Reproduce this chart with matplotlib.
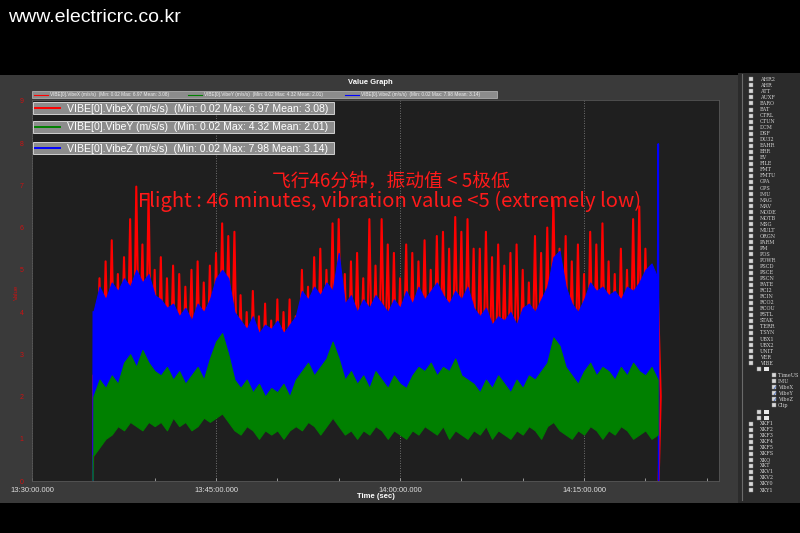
import matplotlib.pyplot as plt
from matplotlib.patches import Rectangle
from matplotlib.lines import Line2D
import numpy as np

# sample times, minutes after 13:30 (one envelope value every 30 s)
minutes = np.arange(5.0, 51.5, 0.5)

# VibeX (red) peaks / troughs
vibe_x_hi = [2.5, 4.8, 5.2, 5.7, 4.9, 5.3, 6.2, 6.97, 5.6, 6.8,
             5.0, 5.3, 4.8, 5.1, 4.9, 4.6, 5.0, 5.2, 4.7, 5.1,
             5.4, 6.1, 5.8, 5.9, 4.4, 4.0, 4.5, 3.9, 4.2, 3.8,
             4.3, 4.0, 4.3, 3.9, 5.0, 4.6, 5.3, 5.5, 5.0, 6.1,
             6.2, 4.9, 5.2, 5.4, 4.8, 6.2, 5.1, 6.2, 5.6, 5.4,
             4.8, 5.6, 5.4, 5.2, 5.7, 5.0, 5.8, 5.9, 5.5, 6.25,
             5.9, 6.2, 5.5, 5.5, 5.9, 5.3, 5.6, 5.1, 5.4, 5.6,
             5.0, 4.7, 5.8, 5.4, 6.0, 6.65, 5.5, 5.8, 5.2, 5.6,
             4.9, 5.9, 5.6, 6.1, 5.2, 4.9, 5.5, 5.0, 6.2, 6.5,
             5.5, 5.0, 4.6]
vibe_x_lo = [2.1, 1.9, 2.3, 2.0, 2.4, 2.2, 1.8, 2.5, 2.1, 2.3,
             2.0, 1.9, 2.2, 1.7, 2.1, 2.4, 1.8, 2.0, 2.3, 1.9,
             2.2, 2.5, 2.1, 1.8, 1.9, 1.6, 2.0, 1.7, 1.9, 1.8,
             1.6, 2.0, 1.7, 2.1, 2.3, 1.9, 2.2, 2.0, 2.4, 2.1,
             2.3, 1.9, 2.0, 2.2, 1.8, 2.1, 1.9, 2.3, 2.0, 1.8,
             2.2, 1.9, 2.1, 2.3, 2.0, 2.2, 2.4, 2.1, 1.9, 2.2,
             2.0, 2.3, 1.8, 1.9, 2.1, 1.7, 2.0, 1.8, 1.9, 2.2,
             1.8, 2.0, 2.1, 1.9, 2.3, 2.5, 2.2, 2.0, 1.9, 2.1,
             1.8, 2.2, 2.0, 2.3, 2.1, 1.9, 2.2, 2.0, 2.3, 2.1,
             2.4, 2.2, 2.0]

# VibeY (green)
vibe_y_hi = [2.0, 2.4, 2.2, 2.5, 2.3, 2.8, 3.0, 2.7, 3.1, 2.8,
             2.6, 2.5, 2.7, 2.4, 2.6, 2.3, 2.5, 2.7, 2.4, 2.9,
             3.3, 3.5, 3.0, 2.4, 2.2, 2.4, 2.1, 2.3, 2.0, 2.2,
             2.1, 2.3, 2.0, 2.4, 2.6, 2.8, 2.5, 2.7, 2.9, 3.3,
             2.9, 2.4, 2.6, 2.3, 2.5, 2.2, 2.6, 2.4, 2.2, 2.5,
             2.3, 2.2, 2.5, 2.7, 2.6, 2.8, 2.5, 2.7, 2.6, 2.9,
             2.5, 2.4, 2.3, 2.1, 2.4, 2.2, 2.5, 2.3, 2.1, 2.4,
             2.2, 2.5, 2.4, 2.6, 2.8, 3.4, 3.2, 2.7, 2.5, 2.3,
             2.6, 2.8, 2.5, 2.7, 2.6, 2.4, 2.7, 2.5, 2.8, 2.6,
             2.5, 2.7, 2.4]
vibe_y_lo = [0.6, 0.8, 1.0, 1.1, 1.3, 1.2, 1.4, 1.3, 1.2, 1.4,
             1.3, 1.4, 1.2, 1.5, 1.3, 1.4, 1.2, 1.3, 1.5, 1.4,
             1.5, 1.6, 1.4, 1.2, 1.1, 1.3, 1.2, 1.0, 1.2, 1.1,
             1.2, 1.0, 1.2, 1.3, 1.2, 1.4, 1.3, 1.1, 1.3, 1.5,
             1.3, 1.1, 1.2, 1.0, 1.2, 1.1, 1.3, 1.2, 1.0, 1.2,
             1.1, 1.0, 1.2, 1.1, 1.3, 1.2, 1.1, 1.3, 1.0, 1.2,
             1.1, 1.0, 1.2, 1.1, 1.3, 1.0, 1.2, 1.1, 1.0, 1.2,
             1.1, 1.3, 1.2, 1.0, 1.3, 1.4, 1.2, 1.1, 1.0, 1.2,
             1.1, 1.3, 1.2, 1.0, 1.2, 1.1, 1.3, 1.2, 1.0, 1.1,
             1.2, 1.0, 1.1]

# VibeZ (blue)
vibe_z_hi = [4.0, 4.6, 4.3, 4.7, 4.5, 4.8, 4.6, 5.0, 4.7, 4.9,
             4.4, 4.3, 4.1, 4.2, 3.9, 4.1, 3.8, 4.2, 4.0, 4.3,
             4.8, 5.0, 4.8, 4.0, 3.8, 3.6, 3.9, 3.5, 3.7, 3.6,
             3.8, 3.5, 3.7, 3.9, 4.5, 4.3, 4.6, 4.4, 4.7, 4.5,
             5.4, 4.2, 4.4, 4.0, 4.3, 4.1, 4.4, 4.2, 4.0, 4.3,
             4.1, 4.5, 4.2, 4.6, 4.3, 4.5, 4.7, 4.4, 4.2, 4.5,
             4.3, 4.6, 4.1, 3.9, 4.1, 3.7, 3.9, 3.8, 4.0, 3.7,
             4.1, 4.2, 4.0, 4.3, 4.6, 5.3, 5.45, 4.6, 4.2, 4.0,
             4.3, 4.7, 4.5, 4.6, 4.4, 4.5, 4.3, 4.6, 4.5, 4.7,
             5.0, 5.15, 4.8]
vibe_z_lo = [1.5, 1.9, 2.1, 2.3, 2.2, 2.4, 2.1, 2.5, 2.3, 2.2,
             2.0, 2.1, 2.3, 1.9, 2.2, 2.0, 2.1, 2.3, 2.0, 2.2,
             2.4, 2.6, 2.3, 1.9, 1.8, 2.0, 1.7, 1.9, 1.8, 2.0,
             1.8, 1.7, 1.9, 2.0, 2.2, 2.1, 2.3, 2.2, 2.4, 2.6,
             2.2, 2.0, 2.2, 1.9, 2.1, 1.8, 2.2, 2.0, 1.9, 2.1,
             2.0, 1.9, 2.2, 2.3, 2.1, 2.4, 2.2, 2.3, 2.1, 2.4,
             2.0, 2.1, 1.9, 1.8, 2.0, 1.9, 2.1, 1.8, 1.9, 2.0,
             1.9, 2.1, 2.0, 2.2, 2.4, 2.7, 2.5, 2.2, 2.0, 1.9,
             2.1, 2.3, 2.1, 2.2, 2.0, 2.2, 2.1, 2.3, 2.2, 2.1,
             2.3, 2.2, 2.0]

series_names = ['VIBE[0].VibeX (m/s/s)', 'VIBE[0].VibeY (m/s/s)', 'VIBE[0].VibeZ (m/s/s)']
series_min = [0.02, 0.02, 0.02]
series_max = [6.97, 4.32, 7.98]
series_mean = [3.08, 2.01, 3.14]
series_colors = ['#ff0000', '#008000', '#0000ff']

tick_minutes = [0, 15, 30, 45]
tick_labels = ['13:30:00.000', '13:45:00.000', '14:00:00.000', '14:15:00.000']

tree_items = ['AHR2', 'AHR', 'ATT', 'AUXF', 'BARO', 'BAT', 'CTRL', 'CTUN', 'DCM', 'DSF',
              'DU32', 'EAHR', 'ERR', 'EV', 'FILE', 'FMT', 'FMTU', 'GPA', 'GPS', 'IMU',
              'MAG', 'MAV', 'MODE', 'MOTB', 'MSG', 'MULT', 'ORGN', 'PARM', 'PM', 'POS',
              'POWR', 'PSCD', 'PSCE', 'PSCN', 'RATE', 'RCI2', 'RCIN', 'RCO2', 'RCOU', 'RSTL',
              'STAK', 'TERR', 'TSYN', 'UBX1', 'UBX2', 'UNIT', 'VER', 'VIBE']
vibe_fields = ['TimeUS', 'IMU', 'VibeX', 'VibeY', 'VibeZ', 'Clip']
tail_items = ['XKF1', 'XKF2', 'XKF3', 'XKF4', 'XKF5', 'XKFS', 'XKQ', 'XKT', 'XKV1', 'XKV2',
              'XKY0', 'XKY1']

W, H = 800, 533


def fx(x):
    return x / W


def fy(y):
    return 1 - y / H


def zigzag(hi, lo):
    xs = np.empty(2 * len(minutes))
    ys = np.empty(2 * len(minutes))
    xs[0::2] = minutes
    xs[1::2] = minutes + 0.25
    ys[0::2] = hi
    ys[1::2] = lo
    return xs, ys


fig = plt.figure(figsize=(8, 5.33), dpi=100, facecolor='black')

# window panels (behind the axes)
fig.add_artist(Rectangle((0, fy(503)), fx(738), (503 - 75) / H, transform=fig.transFigure,
                         facecolor='#3a3a3a', edgecolor='none', zorder=-5))
fig.add_artist(Rectangle((fx(738), fy(503)), fx(62), (503 - 73) / H, transform=fig.transFigure,
                         facecolor='#2b2b2b', edgecolor='none', zorder=-5))
fig.add_artist(Line2D([fx(742), fx(742)], [fy(500), fy(74)], transform=fig.transFigure,
                      color='#6a6a6a', lw=0.8, zorder=-4))

fig.text(fx(8), fy(18), 'www.electricrc.co.kr', color='white', fontsize=14,
         family='Liberation Sans', va='center', ha='left')
fig.text(fx(370), fy(83), 'Value Graph', color='white', fontsize=5.5, weight='bold',
         family='Liberation Sans', ha='center', va='center')

ax = fig.add_axes([fx(32), fy(481), fx(719) - fx(32), (481 - 100) / H])
ax.set_facecolor('#1f1f1f')

red, green, blue = series_colors

# VibeX spikes underneath
xs, ys = zigzag(vibe_x_hi, vibe_x_lo)
ax.plot(np.concatenate([[4.97], xs, [51.08]]),
        np.concatenate([[series_min[0]], ys, [series_min[0]]]), color=red, lw=1.5, zorder=2)

# VibeZ body, with its start and the last sample spiking to its max
ax.fill_between(minutes, vibe_z_lo, vibe_z_hi, color=blue, lw=0.8, edgecolor=blue, zorder=3)
ax.plot([4.97, minutes[0]], [series_min[2], vibe_z_hi[0]], color=blue, lw=1.2, zorder=3)
ax.plot([minutes[-1], 51.05, 51.08], [vibe_z_hi[-1], series_max[2], series_min[2]],
        color=blue, lw=1.2, zorder=3)

# VibeY body on top
ax.fill_between(minutes, vibe_y_lo, vibe_y_hi, color=green, lw=0.8, edgecolor=green, zorder=4)
ax.plot([4.97, minutes[0]], [series_min[1], vibe_y_lo[0]], color=green, lw=1.0, zorder=4)

ax.set_xlim(0, 56)
ax.set_ylim(0, 9.02)
ax.set_xticks(tick_minutes)
ax.set_xticklabels(tick_labels)
ax.set_xticks(np.arange(0, 56, 5), minor=True)
ax.set_yticks(range(10))
ax.tick_params(axis='x', which='both', colors='#aaaaaa', labelcolor='#dddddd',
               labelsize=5.5, length=2.5, width=0.6, direction='in', pad=4)
ax.tick_params(axis='y', colors='#aaaaaa', labelcolor='#cc1111', labelsize=5,
               length=0, pad=6)
for lab in ax.get_xticklabels() + ax.get_yticklabels():
    lab.set_family('Liberation Sans')
ax.grid(axis='x', which='major', color='#8a8a8a', lw=0.6, linestyle=(0, (1, 2)), zorder=1)
for s in ax.spines.values():
    s.set_color('#555555')
    s.set_linewidth(0.6)

fig.text(fx(376), fy(496), 'Time (sec)', color='white', fontsize=5.5, weight='bold',
         family='Liberation Sans', ha='center', va='center')
fig.text(fx(16), fy(292), 'Value', color='#cc1111', fontsize=4.5, rotation=90,
         family='Liberation Sans', ha='center', va='center')

labels = ['%s  (Min: %.2f Max: %.2f Mean: %.2f)' % (n, a, b, c)
          for n, a, b, c in zip(series_names, series_min, series_max, series_mean)]

# small legend strip
fig.add_artist(Rectangle((fx(32), fy(98)), fx(465), 7 / H, transform=fig.transFigure,
                         facecolor='#8c8c8c', edgecolor='#bdbdbd', lw=0.5, zorder=2))
for x0, lab, col in zip([34, 188, 345], labels, series_colors):
    fig.add_artist(Line2D([fx(x0), fx(x0 + 14)], [fy(94.5), fy(94.5)],
                          transform=fig.transFigure, color=col, lw=0.8, zorder=3))
    fig.text(fx(x0 + 16), fy(94.5), lab, color='#eeeeee', fontsize=3.4,
             family='Liberation Sans', va='center', ha='left')

# large legend boxes
for y0, lab, col in zip([102, 121, 142], labels, series_colors):
    fig.add_artist(Rectangle((fx(33), fy(y0 + 12)), fx(301), 12 / H,
                             transform=fig.transFigure, facecolor='#8c8c8c',
                             edgecolor='#d0d0d0', lw=0.7, zorder=2))
    fig.add_artist(Line2D([fx(35), fx(60)], [fy(y0 + 6), fy(y0 + 6)],
                          transform=fig.transFigure, color=col, lw=1.4, zorder=3))
    fig.text(fx(67), fy(y0 + 6.5), lab, color='white', fontsize=7.6,
             family='Liberation Sans', va='center', ha='left')

# annotation
cjk = ['Noto Sans CJK SC', 'DejaVu Sans']
fig.text(fx(391), fy(181), '飞行46分钟，振动值 < 5极低', color='#ff1a1a', fontsize=13.5,
         family=cjk, ha='center', va='center')
fig.text(fx(390), fy(201), 'Flight : 46 minutes, vibration value <5 (extremely low)',
         color='#ff1a1a', fontsize=14.6, family=cjk, ha='center', va='center')

# right-hand tree of log messages
step = 6.04
rows = []
for name in tree_items:
    rows.append((0, name, False))
rows.append((1, '0', False))
for f in vibe_fields:
    rows.append((2, f, f in ('VibeX', 'VibeY', 'VibeZ')))
rows.append((1, '1', False))
rows.append((1, '2', False))
for name in tail_items:
    rows.append((0, name, False))

for i, (lvl, name, checked) in enumerate(rows):
    yc = 79.3 + i * step
    if lvl == 0:
        bx, tx = 749, 760
    elif lvl == 1:
        bx, tx = 757, 770
        fig.add_artist(Rectangle((fx(764), fy(yc + 2)), fx(5), 4 / H, transform=fig.transFigure,
                                 facecolor='#e8e8e8', edgecolor='none'))
    else:
        bx, tx = 772, 778
    fig.add_artist(Rectangle((fx(bx), fy(yc + 2)), fx(4), 4 / H, transform=fig.transFigure,
                             facecolor='#d8d8d8', edgecolor='#888888', lw=0.3))
    if checked:
        fig.text(fx(bx + 2), fy(yc), '✓', color='#2050c0', fontsize=4,
                 ha='center', va='center')
    if lvl != 1:
        fig.text(fx(tx), fy(yc), name, color='#d0d0d0', fontsize=3.6,
                 family='DejaVu Serif', va='center', ha='left')

fig.savefig('out.png', dpi=100, facecolor='black')
